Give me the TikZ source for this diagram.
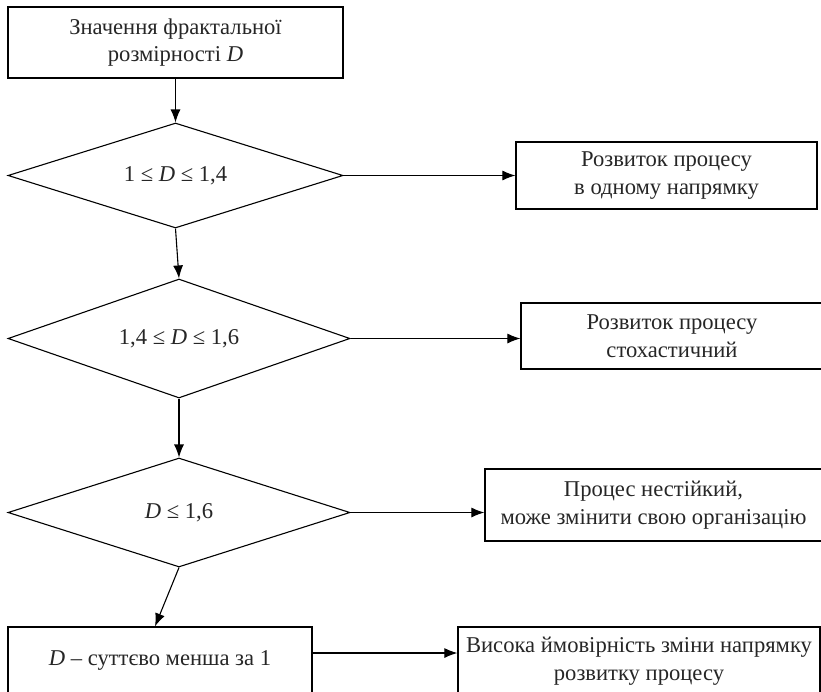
\documentclass[tikz,border=0pt]{standalone}
\usepackage{fontspec}
\setmainfont{Liberation Serif}
\usetikzlibrary{shapes.geometric,arrows.meta}
\begin{document}
\begin{tikzpicture}[x=1pt,y=-1pt,
  every node/.style={font=\fontsize{22.6}{27.5}\selectfont, text=black!85, align=center, inner sep=0pt},
  blockbox/.style={draw, line width=1.2pt, minimum width=#1},
  decision/.style={draw, diamond, line width=1.1pt, shape aspect=3.2},
  flow/.style={line width=1.1pt, -{Latex[length=13pt,width=10pt]}}]
\useasboundingbox (0,0) rectangle (821,691);
\clip (0,0) rectangle (821,691);

% start block
\node[blockbox=335pt, minimum height=71pt] (start) at (175.5,42.5)
  {Значення фрактальної\\розмірності \textit{D}};

% decisions
\node[decision, minimum width=335pt, minimum height=105pt] (d1) at (175.5,175.5)
  {1 ≤ \textit{D} ≤ 1,4};
\node[decision, minimum width=342pt, minimum height=119pt] (d2) at (179,338.5)
  {1,4 ≤ \textit{D} ≤ 1,6};
\node[decision, minimum width=342pt, minimum height=109pt] (d3) at (179,512.5)
  {\textit{D} ≤ 1,6};

% outcome blocks
\node[blockbox=301pt, minimum height=67pt] (r1) at (666.5,175.5)
  {Розвиток процесу\\в одному напрямку};
\node[blockbox=302pt, minimum height=66pt] (r2) at (672,336)
  {Розвиток процесу\\стохастичний};
\node[blockbox=337pt, minimum height=72pt] (r3) at (653.5,505)
  {Процес нестійкий,\\може змінити свою організацію};
\node[blockbox=304pt, minimum height=66pt] (low) at (160,660)
  {\textit{D} – суттєво менша за 1};
\node[blockbox=362pt, minimum height=68pt] (r4) at (639,661)
  {Висока ймовірність зміни напрямку\\розвитку процесу};

% connectors
\draw[flow] (start.south) -- (d1.north);
\draw[flow] (d1.east) -- (r1.west);
\draw[flow] (d1.south) -- (d2.north);
\draw[flow] (d2.east) -- (d2.east -| r2.west);
\draw[flow] (d2.south) -- (d3.north);
\draw[flow] (d3.east) -- (d3.east -| r3.west);
\draw[flow] (d3.south) -- ([xshift=-5pt]low.north);
\draw[flow] ([yshift=7pt]low.east) -- ([yshift=7pt]low.east -| r4.west);
\end{tikzpicture}
\end{document}
